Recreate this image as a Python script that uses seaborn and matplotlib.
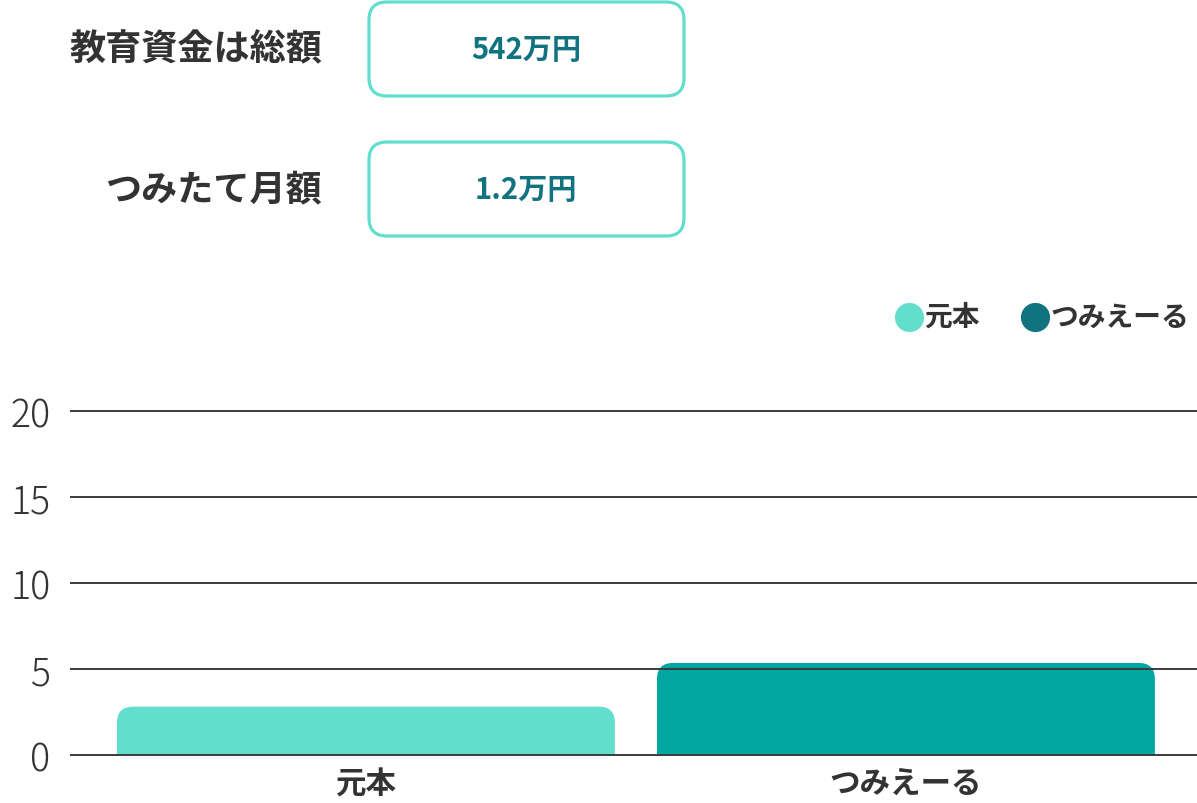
import numpy as np
import pandas as pd
import matplotlib
matplotlib.use("Agg")
import matplotlib.pyplot as plt
import seaborn as sns
from matplotlib.path import Path
from matplotlib.patches import PathPatch, FancyBboxPatch
from matplotlib.lines import Line2D
from matplotlib.transforms import IdentityTransform

# data
categories = ["元本", "つみえーる"]
values = [2.81, 5.35]
bar_colors = ["#62dfcc", "#00a6a0"]
legend_colors = ["#62dfcc", "#10737f"]
y_ticks = [0, 5, 10, 15, 20]
info_labels = ["教育資金は総額", "つみたて月額"]
info_values = ["542万円", "1.2万円"]

sns.set_theme(style="white")
plt.rcParams["font.family"] = ["Noto Sans CJK JP", "DejaVu Sans"]

W, H = 1197, 804
fig = plt.figure(figsize=(W / 100, H / 100), dpi=100)

# axes placement (pixels, top-origin)
px_per_y = 17.2
ylo, yhi = -0.3, 20.3
x_left, x_right = 70, 1197
y_zero = 756
ax_bottom = H - (y_zero + (0 - ylo) * px_per_y)
ax_height = (yhi - ylo) * px_per_y
ax = fig.add_axes([x_left / W, ax_bottom / H, (x_right - x_left) / W, ax_height / H])

df = pd.DataFrame({"cat": categories, "val": values})
sns.barplot(data=df, x="cat", y="val", hue="cat", palette=bar_colors,
            width=0.922, legend=False, ax=ax, saturation=1)

xlo, xhi = -0.548, 1.539
ax.set_xlim(xlo, xhi)
ax.set_ylim(ylo, yhi)
ax.set_yticks(y_ticks)
ax.set_xlabel("")
ax.set_ylabel("")
for s in ax.spines.values():
    s.set_visible(False)
ax.set_axisbelow(False)
ax.grid(axis="y", color="#3a3a3a", lw=1.4)
ax.grid(axis="x", visible=False)
ax.tick_params(axis="both", length=0)
ax.tick_params(axis="y", pad=14)
ax.tick_params(axis="x", pad=5)
for t in ax.get_yticklabels():
    t.set_fontsize(27)
    t.set_fontweight("light")
    t.set_color("#333333")
for t in ax.get_xticklabels():
    t.set_fontsize(22)
    t.set_fontweight("bold")
    t.set_color("#333333")

# rounded top corners
px_per_x = (x_right - x_left) / (xhi - xlo)
rx, ry = 16 / px_per_x, 16 / px_per_y
for p in list(ax.patches):
    x, y, w, h = p.get_x(), p.get_y(), p.get_width(), p.get_height()
    verts = [(x, y), (x, y + h - ry), (x, y + h), (x + rx, y + h),
             (x + w - rx, y + h), (x + w, y + h), (x + w, y + h - ry),
             (x + w, y), (x, y)]
    codes = [Path.MOVETO, Path.LINETO, Path.CURVE3, Path.CURVE3,
             Path.LINETO, Path.CURVE3, Path.CURVE3, Path.LINETO, Path.CLOSEPOLY]
    ax.add_patch(PathPatch(Path(verts, codes), facecolor=p.get_facecolor(),
                           edgecolor="none", zorder=1))
    p.set_visible(False)

# info boxes
box_centers = [50, 190]
for lab, val, cy in zip(info_labels, info_values, box_centers):
    yb = H - cy
    fig.add_artist(FancyBboxPatch((369 + 18, yb - 47 + 18), 315 - 36, 94 - 36,
                                  boxstyle="round,pad=18",
                                  transform=IdentityTransform(),
                                  facecolor="white", edgecolor="#62dfcc", lw=2.3))
    fig.text(322 / W, yb / H, lab, ha="right", va="center", fontsize=26,
             fontweight="bold", color="#333333")
    fig.text(526 / W, yb / H, val, ha="center", va="center", fontsize=21,
             fontweight="bold", color="#10737f")

# legend
leg_x = [909, 1035]
leg_y = H - 318
for lab, col, lx in zip(categories, legend_colors, leg_x):
    fig.add_artist(Line2D([lx], [leg_y], marker="o", markersize=20, color=col,
                          transform=IdentityTransform(), ls="none"))
    fig.text((lx + 15) / W, leg_y / H, lab, ha="left", va="center",
             fontsize=20, fontweight="bold", color="#333333")

fig.savefig("out.png", dpi=100)
